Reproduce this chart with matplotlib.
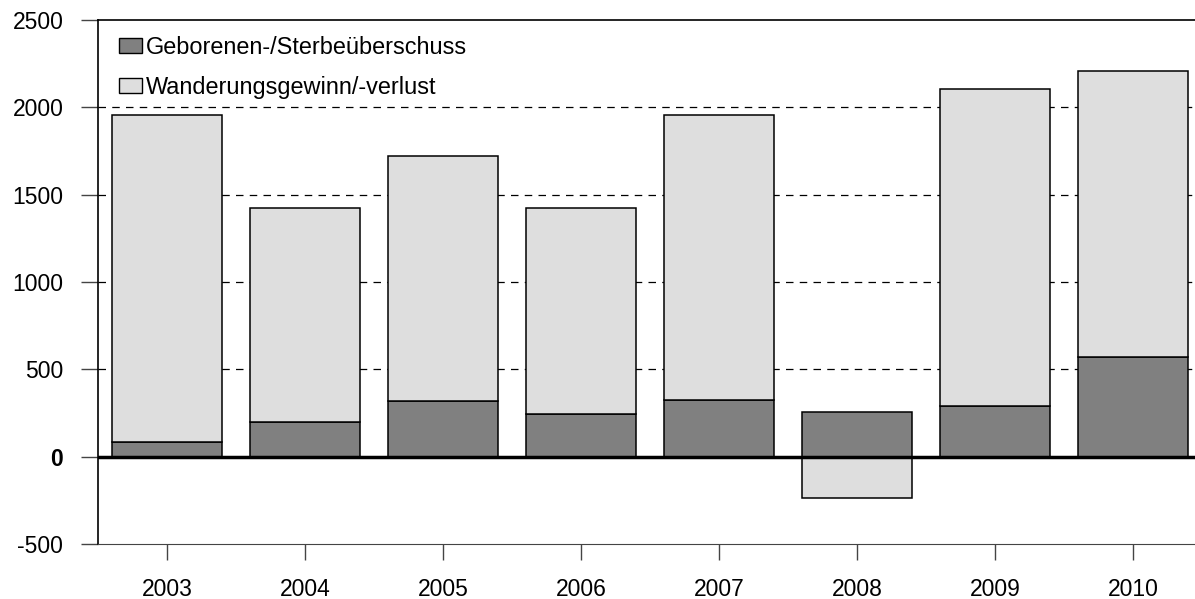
"""
Bevölkerungsentwicklung: Geborenen-/Sterbeüberschuss und Wanderungssaldo
als gestapeltes Säulendiagramm, 2003-2010.
"""

import matplotlib.pyplot as plt
import matplotlib.patches as mpatches

plt.rcParams["font.family"] = ["Liberation Sans", "DejaVu Sans"]

JAHRE = ["2003", "2004", "2005", "2006", "2007", "2008", "2009", "2010"]
GEBURTEN_SALDO = [86, 200, 320, 246, 326, 253, 288, 572]
WANDERUNG_SALDO = [1870, 1224, 1402, 1178, 1630, -236, 1817, 1636]

Y_TICKS = [-500, 0, 500, 1000, 1500, 2000, 2500]

COLOR_DUNKEL = "#808080"
COLOR_HELL = "#dedede"
FS = 16.5

W, H = 1195, 599


def main():
    fig = plt.figure(figsize=(W / 100, H / 100), dpi=100)
    # Achse reicht rechts etwas über den Bildrand hinaus (wie im Original)
    ax = fig.add_axes([98 / W, (H - 544) / H, 1104 / W, 524 / H])

    x = range(len(JAHRE))
    # positiver Wanderungssaldo sitzt auf dem Geburtensaldo, negativer hängt unter 0
    boden = [g if w >= 0 else 0 for g, w in zip(GEBURTEN_SALDO, WANDERUNG_SALDO)]

    ax.bar(x, GEBURTEN_SALDO, width=0.8, color=COLOR_DUNKEL,
           edgecolor="black", linewidth=1.1, zorder=3)
    ax.bar(x, WANDERUNG_SALDO, width=0.8, bottom=boden, color=COLOR_HELL,
           edgecolor="black", linewidth=1.1, zorder=3)

    # Gitterlinien gestrichelt
    for y in Y_TICKS[2:-1]:
        ax.axhline(y, color="black", linewidth=0.9, dashes=(6, 5), zorder=1)
    ax.axhline(0, color="black", linewidth=2.5, zorder=4)

    ax.set_xlim(-0.5, len(JAHRE) - 0.5)
    ax.set_ylim(-500, 2500)
    ax.set_yticks(Y_TICKS)
    ax.set_yticklabels([str(t) for t in Y_TICKS], fontsize=FS)
    for lbl in ax.get_yticklabels():
        if lbl.get_text() == "0":
            lbl.set_fontweight("bold")
    ax.set_xticks(list(x))
    ax.set_xticklabels(JAHRE, fontsize=FS)

    ax.tick_params(axis="y", length=12, width=1, pad=13, color="#444444")
    ax.tick_params(axis="x", length=11.5, width=1, pad=13, color="#444444")
    ax.spines["right"].set_visible(False)
    ax.spines["bottom"].set_color("#444444")
    for s in ("left", "top"):
        ax.spines[s].set_linewidth(1.2)

    patches = [
        mpatches.Patch(facecolor=COLOR_DUNKEL, edgecolor="black",
                       label="Geborenen-/Sterbeüberschuss"),
        mpatches.Patch(facecolor=COLOR_HELL, edgecolor="black",
                       label="Wanderungsgewinn/-verlust"),
    ]
    ax.legend(handles=patches, loc="upper left", frameon=False, fontsize=16.9,
              handlelength=1.0, handleheight=0.6, handletextpad=0.16,
              labelspacing=0.72, borderpad=0, borderaxespad=0,
              bbox_to_anchor=(119 / W, 1 - 36 / H),
              bbox_transform=fig.transFigure)

    fig.savefig("out.png", dpi=100, facecolor="white")
    plt.close(fig)


if __name__ == "__main__":
    main()
